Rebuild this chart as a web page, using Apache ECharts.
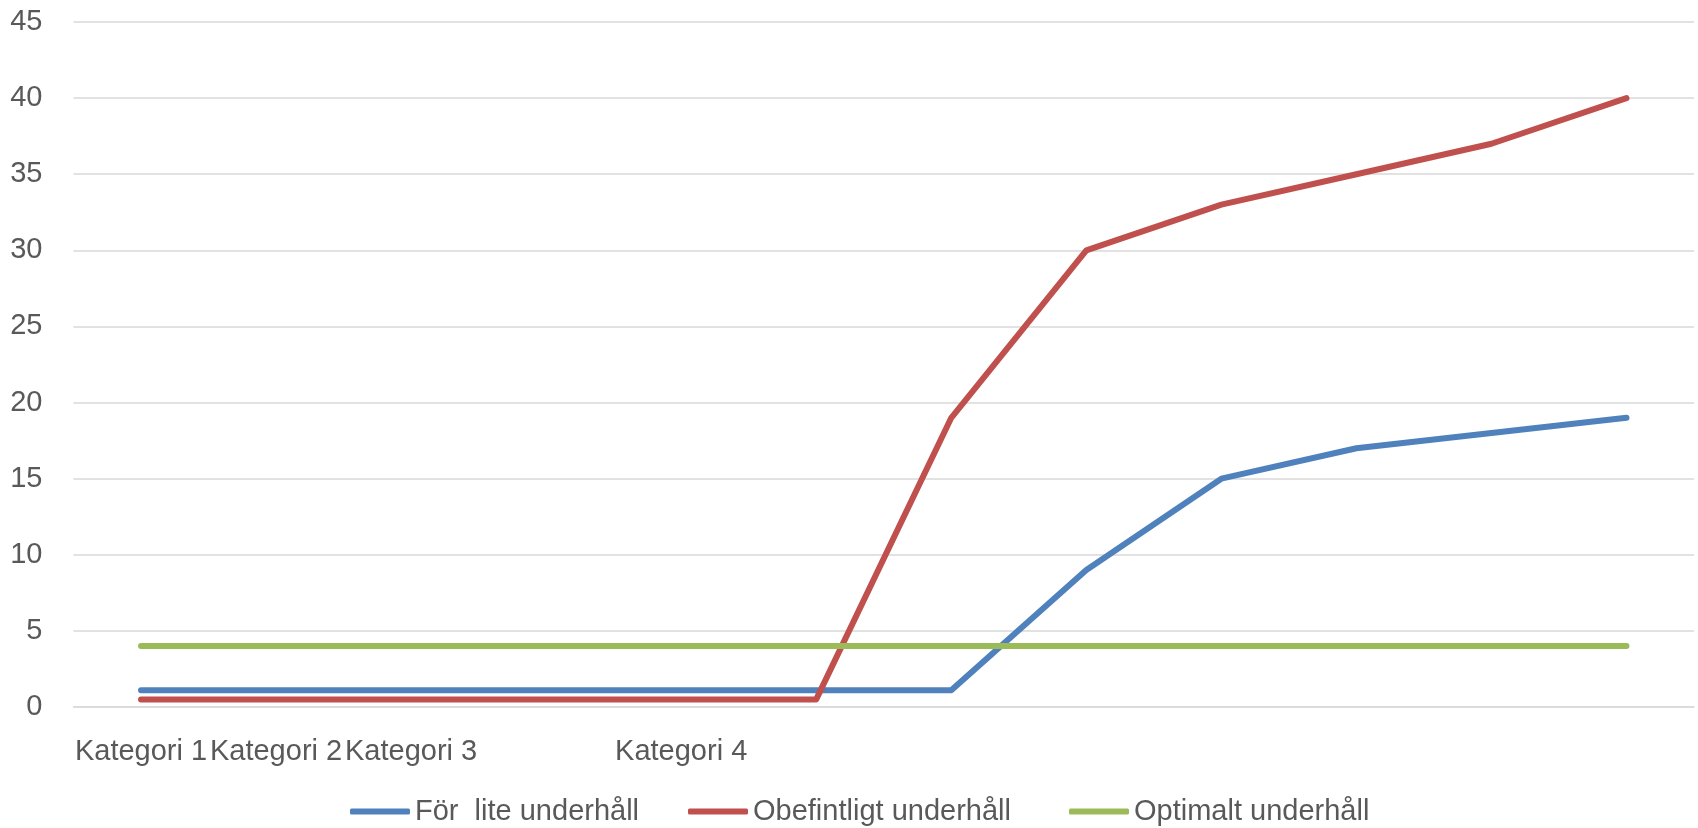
<!DOCTYPE html>
<html>
<head>
<meta charset="utf-8">
<script src="https://cdn.jsdelivr.net/npm/echarts@6/dist/echarts.min.js"></script>
<style>
  html, body { margin: 0; padding: 0; background: #ffffff; }
  #chart { width: 1698px; height: 828px; }
</style>
</head>
<body>
<div id="chart"></div>
<script>
// Category labels along the x axis (only some points carry a name)
const categories = ['Kategori 1', 'Kategori 2', 'Kategori 3', '', 'Kategori 4', '', '', '', '', '', '', ''];

// Series values, one per category
const forLiteUnderhall = [1.1, 1.1, 1.1, 1.1, 1.1, 1.1, 1.1, 9, 15, 17, 18, 19];
const obefintligtUnderhall = [0.5, 0.5, 0.5, 0.5, 0.5, 0.5, 19, 30, 33, 35, 37, 40];
const optimaltUnderhall = [4, 4, 4, 4, 4, 4, 4, 4, 4, 4, 4, 4];

const seriesNames = ['För  lite underhåll', 'Obefintligt underhåll', 'Optimalt underhåll'];
const seriesColors = ['#4f81bd', '#c0504d', '#9bbb59'];

// Value axis range
const yMin = 0;
const yMax = 45;
const yStep = 5;

const textColor = '#595959';
const gridColor = '#d9d9d9';
const fontFamily = '"Liberation Sans", Arial, sans-serif';
const fontSize = 29;

const chart = echarts.init(document.getElementById('chart'), null, { renderer: 'canvas' });

function lineSeries(name, data, color) {
  return {
    name: name,
    type: 'line',
    data: data,
    symbol: 'none',
    showSymbol: false,
    lineStyle: { color: color, width: 6, cap: 'round', join: 'round' },
    itemStyle: { color: color }
  };
}

// One legend block per series so each entry sits at its own x position
const legendLefts = [345, 683, 1064];
const legends = seriesNames.map((name, i) => ({
  left: legendLefts[i],
  top: 792,
  icon: 'roundRect',
  itemWidth: 60,
  itemHeight: 6,
  textStyle: { color: textColor, fontSize: fontSize, fontFamily: fontFamily },
  data: [name]
}));

chart.setOption({
  animation: false,
  backgroundColor: '#ffffff',
  textStyle: { fontFamily: fontFamily },
  grid: { left: 73.5, right: 4, top: 22, bottom: 121, containLabel: false },
  legend: legends,
  xAxis: {
    type: 'category',
    data: categories,
    boundaryGap: true,
    axisLine: { show: true, lineStyle: { color: gridColor, width: 1.5 } },
    axisTick: { show: false },
    splitLine: { show: false },
    axisLabel: {
      interval: 0,
      color: textColor,
      fontSize: fontSize,
      fontFamily: fontFamily,
      margin: 30
    }
  },
  yAxis: {
    type: 'value',
    min: yMin,
    max: yMax,
    interval: yStep,
    axisLine: { show: false },
    axisTick: { show: false },
    splitLine: { show: true, lineStyle: { color: gridColor, width: 1.5 } },
    axisLabel: {
      color: textColor,
      fontSize: fontSize,
      fontFamily: fontFamily,
      margin: 31
    }
  },
  series: seriesNames.map((name, i) =>
    lineSeries(name, [forLiteUnderhall, obefintligtUnderhall, optimaltUnderhall][i], seriesColors[i])
  )
});
</script>
</body>
</html>
